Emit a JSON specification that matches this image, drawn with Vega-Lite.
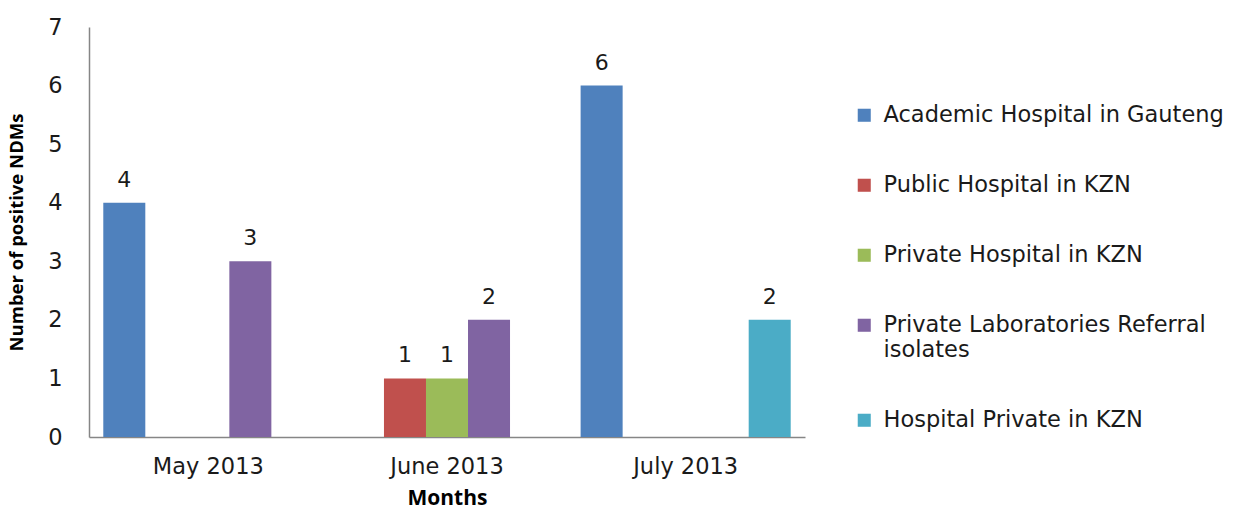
{
  "$schema": "https://vega.github.io/schema/vega-lite/v6.json",
  "width": 716,
  "height": 410,
  "autosize": {"type": "none"},
  "padding": {"left": 89, "top": 27, "right": 431, "bottom": 75},
  "background": "white",
  "config": {
    "font": "DejaVu Sans",
    "view": {"stroke": null}
  },
  "data": {
    "values": [
      {"month": "May 2013", "site": "Academic Hospital in Gauteng", "count": 4},
      {"month": "May 2013", "site": "Private Laboratories Referral isolates", "count": 3},
      {"month": "June 2013", "site": "Public Hospital in KZN", "count": 1},
      {"month": "June 2013", "site": "Private Hospital in KZN", "count": 1},
      {"month": "June 2013", "site": "Private Laboratories Referral isolates", "count": 2},
      {"month": "July 2013", "site": "Academic Hospital in Gauteng", "count": 6},
      {"month": "July 2013", "site": "Hospital Private in KZN", "count": 2}
    ]
  },
  "encoding": {
    "x": {
      "field": "month",
      "type": "nominal",
      "sort": ["May 2013", "June 2013", "July 2013"],
      "scale": {"paddingInner": 0, "paddingOuter": 0},
      "axis": {
        "title": "Months",
        "titleFont": "Open Sans",
        "titleFontSize": 21,
        "titleFontWeight": "bold",
        "titleColor": "#000000",
        "titlePadding": 10,
        "labelAngle": 0,
        "labelFontSize": 22.5,
        "labelColor": "#1a1a1a",
        "labelPadding": 18,
        "ticks": false,
        "domainColor": "#868686",
        "domainWidth": 1.5
      }
    },
    "xOffset": {
      "field": "site",
      "type": "nominal",
      "scale": {
        "domain": ["Academic Hospital in Gauteng", "Public Hospital in KZN", "Private Hospital in KZN", "Private Laboratories Referral isolates", "Hospital Private in KZN"],
        "paddingInner": 0,
        "paddingOuter": 0.34
      }
    },
    "y": {
      "field": "count",
      "type": "quantitative",
      "scale": {"domain": [0, 7], "nice": false},
      "axis": {
        "title": "Number of positive NDMs",
        "titleFont": "Open Sans",
        "titleFontSize": 18.5,
        "titleFontWeight": "bold",
        "titleColor": "#000000",
        "titlePadding": 21,
        "values": [0, 1, 2, 3, 4, 5, 6, 7],
        "labelFontSize": 22.5,
        "labelColor": "#1a1a1a",
        "labelPadding": 27,
        "ticks": false,
        "grid": false,
        "domainColor": "#868686",
        "domainWidth": 1.5
      }
    }
  },
  "layer": [
    {
      "mark": {"type": "bar"},
      "encoding": {
        "color": {
          "field": "site",
          "type": "nominal",
          "scale": {
            "domain": ["Academic Hospital in Gauteng", "Public Hospital in KZN", "Private Hospital in KZN", "Private Laboratories Referral isolates", "Hospital Private in KZN"],
            "range": ["#4F81BD", "#C0504D", "#9BBB59", "#8064A2", "#4BACC6"]
          },
          "legend": {
            "title": null,
            "orient": "none",
            "legendX": 764,
            "legendY": 77,
            "symbolType": "square",
            "symbolSize": 170,
            "symbolStrokeWidth": 0,
            "labelFontSize": 22.5,
            "labelColor": "#1a1a1a",
            "labelOffset": 8,
            "labelLimit": 400,
            "rowPadding": 47,
            "labelBaseline": "middle",
            "labelExpr": "datum.label == 'Private Laboratories Referral isolates' ? ['Private Laboratories Referral', 'isolates'] : datum.label"
          }
        }
      }
    },
    {
      "mark": {"type": "text", "baseline": "bottom", "dy": -11, "fontSize": 22, "color": "#1a1a1a"},
      "encoding": {
        "text": {"field": "count", "type": "quantitative"}
      }
    }
  ]
}
